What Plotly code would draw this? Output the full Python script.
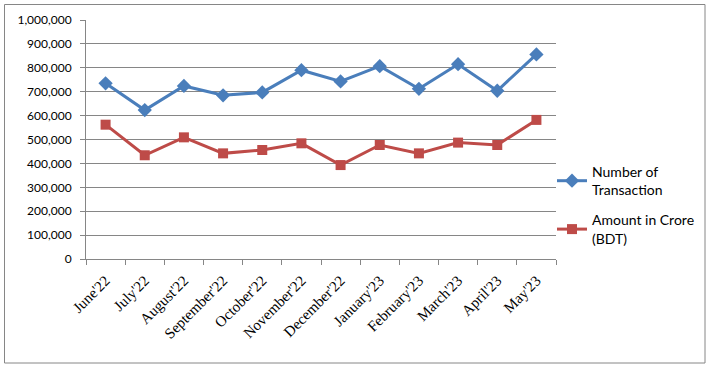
import plotly.graph_objects as go

months = ["June'22", "July'22", "August'22", "September'22", "October'22", "November'22",
          "December'22", "January'23", "February'23", "March'23", "April'23", "May'23"]
transactions = [735000, 623000, 724000, 685000, 697000, 790000, 743000, 807000, 712000, 815000, 704000, 856000]
amount_crore = [562000, 434000, 509000, 442000, 456000, 484000, 393000, 477000, 442000, 487000, 477000, 582000]
y_ticks = [0, 100000, 200000, 300000, 400000, 500000, 600000, 700000, 800000, 900000, 1000000]

W, H = 709, 369
L, R, T, B = 86, 556, 20, 259

fig = go.Figure()
fig.add_trace(go.Scatter(
    x=months, y=transactions, mode="lines+markers", name="Number of<br>Transaction",
    legendgroup="tx",
    line=dict(color="#4A7EBB", width=3),
    marker=dict(symbol="diamond", size=11, color="#4A7EBB"),
))
fig.add_trace(go.Scatter(
    x=months, y=amount_crore, mode="lines+markers", name="Amount in Crore<br>(BDT)",
    legendgroup="amt",
    line=dict(color="#BE4B48", width=3),
    marker=dict(symbol="square", size=10, color="#BE4B48"),
))

pw = R - L
ph = B - T
fig.add_shape(type="rect", xref="paper", yref="paper",
              x0=(4.5 - L) / pw, x1=(705 - L) / pw,
              y0=(B - 363) / ph, y1=(B - 4.5) / ph,
              line=dict(color="#868686", width=1), layer="below")

fig.update_layout(
    width=W, height=H,
    margin=dict(l=L, r=W - R, t=T, b=H - B, autoexpand=False),
    paper_bgcolor="white", plot_bgcolor="white",
    showlegend=True,
    legend=dict(x=(552 - L) / pw, xanchor="left", y=(B - 156) / ph, yanchor="top",
                font=dict(family="Lato, Open Sans, sans-serif", size=14, color="black"),
                tracegroupgap=9, itemwidth=30, bgcolor="rgba(0,0,0,0)"),
    xaxis=dict(type="category", range=[-0.5, len(months) - 0.5], tickangle=-45,
               ticks="outside", tickson="boundaries",
               ticklen=5, tickcolor="#868686", showline=True, linecolor="#868686",
               showgrid=False, automargin=False, ticklabelstandoff=6,
               tickfont=dict(family="Liberation Serif, Times New Roman, serif", size=15, color="black")),
    yaxis=dict(range=[0, 1000000], tickvals=y_ticks, tickformat=",d", ticks="outside",
               ticklen=5, tickcolor="#868686", showline=True, linecolor="#868686",
               showgrid=True, gridcolor="#868686", gridwidth=1, zeroline=False, automargin=False,
               ticklabelstandoff=6,
               tickfont=dict(family="Lato, Open Sans, sans-serif", size=12, color="black")),
)

fig.write_html("out.html", config={"displayModeBar": False},
               post_script="document.body.style.margin='0';document.body.style.overflow='hidden';")
